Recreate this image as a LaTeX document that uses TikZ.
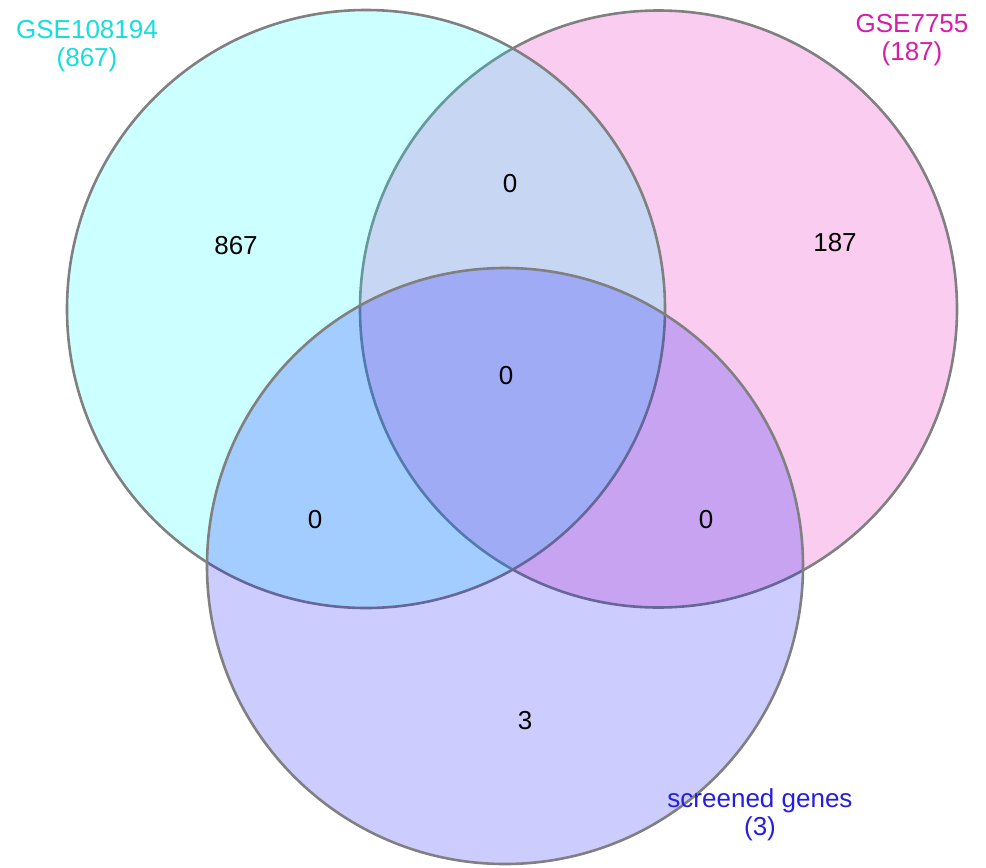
\documentclass[tikz,border=0pt]{standalone}
\usepackage{fontspec}
\setmainfont{Liberation Sans}
\definecolor{setA}{RGB}{0,255,255}
\definecolor{setB}{RGB}{228,0,178}
\definecolor{setC}{RGB}{0,0,255}
\definecolor{labA}{RGB}{20,222,222}
\definecolor{labB}{RGB}{214,28,170}
\definecolor{labC}{RGB}{36,30,222}
\definecolor{rim}{RGB}{128,128,128}
\tikzset{
  setcircle/.style={draw=rim, line width=2.6pt, fill opacity=0.2},
  count/.style={font=\fontsize{26}{28}\selectfont, text=black},
  setlabel/.style={font=\fontsize{26}{28}\selectfont, align=center}
}
\begin{document}
\begin{tikzpicture}[x=1pt,y=-1pt]
\useasboundingbox (0,0) rectangle (986,868);
% circles: stroke drawn with each fill so later fills tint earlier rims
\draw[setcircle, fill=setB] (658.5,309) circle[radius=298.5];
\draw[setcircle, fill=setA] (366,309) circle[radius=299];
\draw[setcircle, fill=setC] (505,566) circle[radius=298];
% region counts
\node[count] (nA) at (236,246) {867};
\node[count] (nAB) at (510,184) {0};
\node[count] (nB) at (835,243) {187};
\node[count] (nABC) at (506,376) {0};
\node[count] (nAC) at (315,520) {0};
\node[count] (nBC) at (706,520) {0};
\node[count] (nC) at (525,721) {3};
% set names
\node[setlabel, text=labA] (lA) at (87,46) {GSE108194\\(867)};
\node[setlabel, text=labB] (lB) at (912,40) {GSE7755\\(187)};
\node[setlabel, text=labC] (lC) at (760,815) {screened genes\\(3)};
\end{tikzpicture}
\end{document}
